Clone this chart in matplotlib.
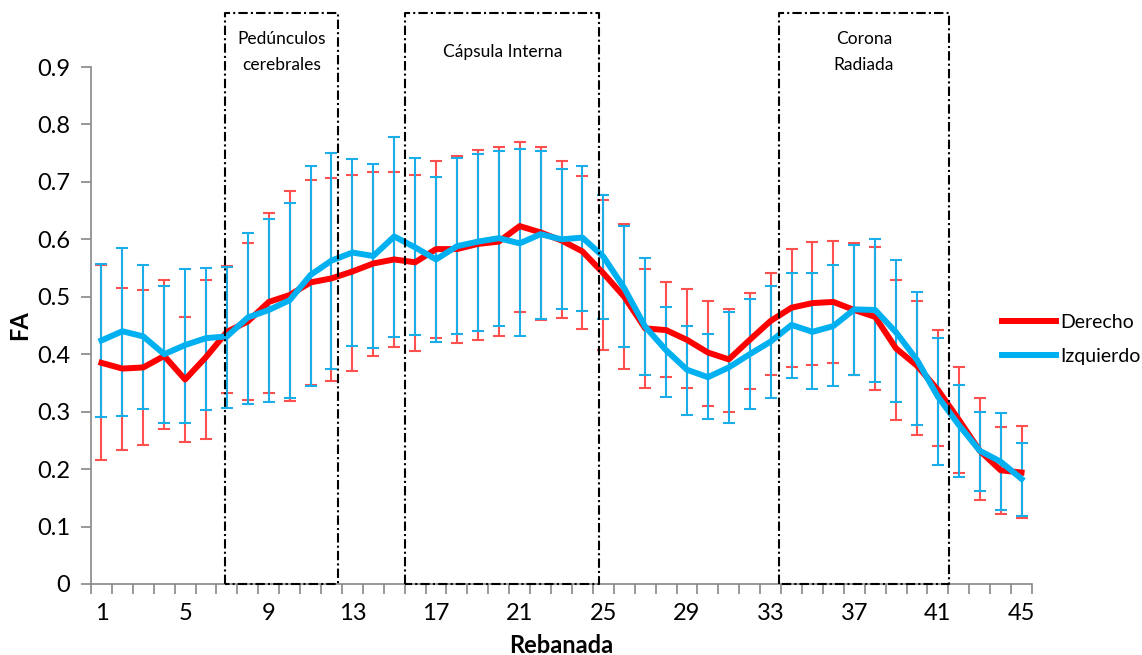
import matplotlib
matplotlib.use("Agg")
import matplotlib.pyplot as plt
import numpy as np

plt.rcParams['font.family'] = ['Lato', 'DejaVu Sans']

slices = list(range(1, 46))
tick_labels = [str(s) for s in range(1, 46, 4)]

derecho = [0.385, 0.375, 0.377, 0.397, 0.356, 0.395, 0.439, 0.457, 0.491, 0.503,
           0.525, 0.532, 0.544, 0.558, 0.565, 0.560, 0.583, 0.583, 0.592, 0.596,
           0.623, 0.612, 0.598, 0.579, 0.541, 0.500, 0.445, 0.442, 0.425, 0.403,
           0.391, 0.425, 0.458, 0.481, 0.489, 0.491, 0.477, 0.465, 0.410, 0.380,
           0.338, 0.286, 0.232, 0.198, 0.194]
derecho_up = [0.555, 0.516, 0.511, 0.529, 0.464, 0.530, 0.554, 0.593, 0.645, 0.684,
              0.703, 0.706, 0.712, 0.718, 0.718, 0.712, 0.737, 0.745, 0.756, 0.760,
              0.770, 0.761, 0.737, 0.710, 0.669, 0.626, 0.548, 0.525, 0.513, 0.493,
              0.478, 0.507, 0.542, 0.583, 0.595, 0.597, 0.594, 0.586, 0.529, 0.493,
              0.442, 0.378, 0.323, 0.274, 0.275]
derecho_lo = [0.215, 0.233, 0.242, 0.269, 0.248, 0.253, 0.332, 0.321, 0.333, 0.319,
              0.347, 0.354, 0.371, 0.397, 0.412, 0.406, 0.428, 0.420, 0.425, 0.432,
              0.474, 0.460, 0.463, 0.444, 0.407, 0.374, 0.342, 0.361, 0.341, 0.310,
              0.299, 0.339, 0.363, 0.377, 0.382, 0.385, 0.364, 0.338, 0.285, 0.260,
              0.240, 0.194, 0.146, 0.122, 0.115]

izquierdo = [0.424, 0.440, 0.431, 0.400, 0.416, 0.428, 0.431, 0.464, 0.477, 0.494,
             0.538, 0.563, 0.577, 0.571, 0.605, 0.586, 0.565, 0.588, 0.596, 0.602,
             0.593, 0.609, 0.600, 0.603, 0.570, 0.515, 0.448, 0.407, 0.373, 0.360,
             0.377, 0.400, 0.422, 0.451, 0.439, 0.449, 0.478, 0.477, 0.438, 0.390,
             0.326, 0.277, 0.232, 0.213, 0.183]
izquierdo_up = [0.557, 0.585, 0.556, 0.519, 0.548, 0.550, 0.551, 0.611, 0.635, 0.664,
                0.728, 0.751, 0.739, 0.731, 0.779, 0.742, 0.709, 0.742, 0.748, 0.753,
                0.757, 0.754, 0.722, 0.727, 0.678, 0.623, 0.567, 0.483, 0.449, 0.435,
                0.474, 0.496, 0.518, 0.542, 0.541, 0.555, 0.591, 0.600, 0.564, 0.508,
                0.429, 0.346, 0.299, 0.298, 0.246]
izquierdo_lo = [0.291, 0.292, 0.304, 0.281, 0.281, 0.303, 0.306, 0.314, 0.316, 0.323,
                0.344, 0.374, 0.414, 0.410, 0.430, 0.434, 0.422, 0.435, 0.441, 0.449,
                0.432, 0.461, 0.479, 0.476, 0.461, 0.413, 0.363, 0.326, 0.294, 0.287,
                0.280, 0.305, 0.324, 0.358, 0.339, 0.344, 0.364, 0.352, 0.317, 0.277,
                0.208, 0.187, 0.162, 0.129, 0.118]

regions = ["Pedúnculos\ncerebrales", "Cápsula Interna", "Corona\nRadiada"]
region_start = [6.9, 15.52, 33.41]
region_end = [12.33, 24.81, 41.51]

fig = plt.figure(figsize=(11.42, 6.55), dpi=100)
ax = fig.add_axes([91/1142, 1-584/655, (1032-91)/1142, (584-67)/655])

x = np.array(slices)
d = np.array(derecho); i_ = np.array(izquierdo)
yerr_d = [d - np.array(derecho_lo), np.array(derecho_up) - d]
yerr_i = [i_ - np.array(izquierdo_lo), np.array(izquierdo_up) - i_]

ax.errorbar(x, d, yerr=yerr_d, fmt='none', ecolor='#FF5050', elinewidth=1.5,
            capsize=4.5, capthick=1.5, zorder=2)
ax.errorbar(x, i_, yerr=yerr_i, fmt='none', ecolor='#19AEE8', elinewidth=1.5,
            capsize=4.5, capthick=1.5, zorder=3)
ax.plot(x, d, color='#FF0000', lw=4.3, solid_joinstyle='round', label='Derecho', zorder=4)
ax.plot(x, i_, color='#00B0F0', lw=4.3, solid_joinstyle='round', label='Izquierdo', zorder=5)

ax.set_xlim(0.5, 45.5)
ax.set_ylim(0, 0.9)
ax.set_yticks(np.arange(0, 0.91, 0.1))
ax.set_yticklabels(['0' if k == 0 else f'{k/10:.1f}' for k in range(10)])
ax.set_xticks(np.arange(0.5, 45.6, 1.0))
ax.set_xticklabels([])
ax.set_xticks(list(range(1, 46, 4)), minor=True)
ax.set_xticklabels(tick_labels, minor=True)
ax.tick_params(axis='x', which='minor', length=0, pad=14, labelsize=17)
ax.tick_params(axis='x', which='major', length=7, width=1.2, color='#888888')
ax.tick_params(axis='y', length=7, width=1.2, color='#888888', labelsize=17, pad=8)
for s in ['top', 'right']:
    ax.spines[s].set_visible(False)
for s in ['left', 'bottom']:
    ax.spines[s].set_color('#888888')
    ax.spines[s].set_linewidth(1.2)

ax.set_ylabel('FA', fontsize=17, fontweight='bold', labelpad=4)
ax.set_xlabel('Rebanada', fontsize=17, fontweight='bold', labelpad=7)

box_top = 0.994
dash = (0, (4.5, 1.5, 1, 1.5))
for name, x0, x1 in zip(regions, region_start, region_end):
    ax.plot([x0, x0, x1, x1, x0], [0, box_top, box_top, 0, 0], color='black',
            lw=1.5, linestyle=dash, clip_on=False, zorder=6)
    ax.text((x0 + x1) / 2, 0.926, name, ha='center', va='center', fontsize=12.5,
            linespacing=1.75)

leg = fig.legend(loc='center left', bbox_to_anchor=(0.862, 0.482), frameon=False,
                 fontsize=14, handlelength=2.8, handletextpad=0.2, labelspacing=0.9)

fig.savefig('out.png', dpi=100)
